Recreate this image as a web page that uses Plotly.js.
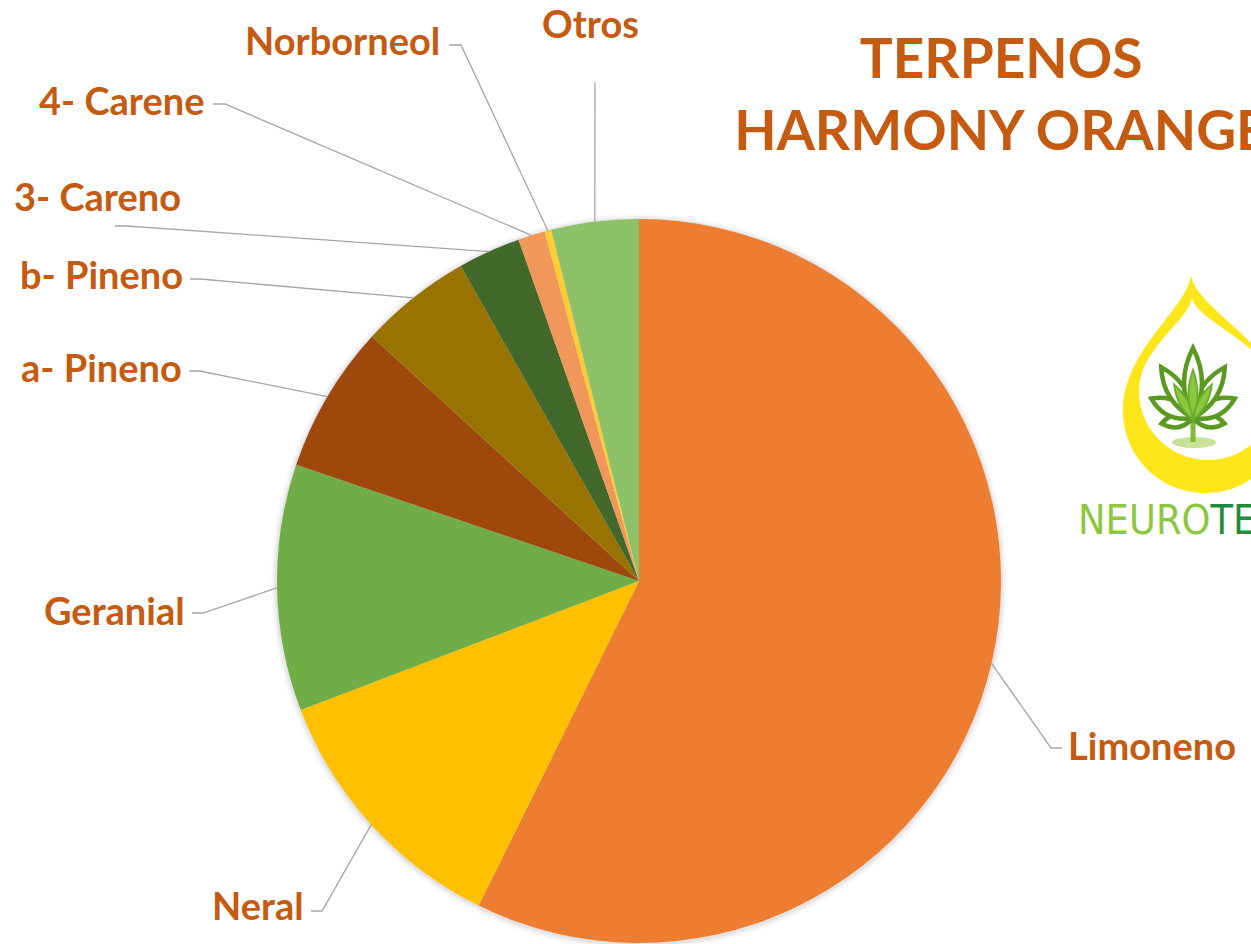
<!DOCTYPE html>
<html>
<head>
<meta charset="utf-8">
<script src="https://cdn.plot.ly/plotly-3.0.1.min.js"></script>
<style>html,body{margin:0;padding:0;background:#fff;}#chart{width:1251px;height:944px;}</style>
</head>
<body>
<div id="chart"></div>
<script>
// ---- data ----
const labels = ['Limoneno','Neral','Geranial','a- Pineno','b- Pineno','3- Careno','4- Carene','Norborneol','Otros'];
const values = [57.3, 11.9, 11.0, 6.6, 5.0, 2.8, 1.2, 0.3, 3.9];
const colors = ['#ED7D31','#FFC000','#70AD47','#9E480E','#997300','#43682B','#F1975A','#FFCD33','#8CC168'];
const titleLines = ['TERPENOS', 'HARMONY ORANGE'];

// ---- label layout (pixels) ----
const labelTextX = [1066, 306, 187, 184, 185, 97, 207, 442, 590];
const labelTextY = [745, 905, 610, 367, 274, 196, 100, 40, 23];
const labelAlign = ['left','right','right','right','right','center','right','right','center'];
const lineEndX = [1062, 311, 192, 189, 190, 115, 213, 449, 595];
const lineEndY = [748, 911, 613, 371, 279, 226, 104, 45, 82];
const elbowX   = [1051, 322, 203, 200, 200, 127, 225, 461, 595];

const W = 1251, H = 944;
const px = x => x / W;
const py = y => 1 - y / H;

// pie geometry
const PCX = 639, PCY = 581, PR = 362;
const domX = [(PCX - PR) / W, (PCX + PR) / W];
const domY = [1 - (PCY + PR) / H, 1 - (PCY - PR) / H];
const cx = W * (domX[0] + domX[1]) / 2;
const cy = H * (1 - (domY[0] + domY[1]) / 2);
const r = Math.min(W * (domX[1] - domX[0]), H * (domY[1] - domY[0])) / 2;

const total = values.reduce((a, b) => a + b, 0);
let cum = 0;
const anchors = values.map(v => {
  const mid = (cum + v / 2) / total * 2 * Math.PI;
  cum += v;
  return [cx + r * Math.sin(mid), cy - r * Math.cos(mid)];
});

const shapes = [];
// soft shadow
[[6, 0.025], [4, 0.035], [2, 0.05]].forEach(([d, o]) => {
  shapes.push({type: 'circle', xref: 'paper', yref: 'paper', layer: 'below',
    x0: px(cx - r - d), x1: px(cx + r + d), y0: py(cy + r + d + 1), y1: py(cy - r - d + 1),
    fillcolor: 'rgba(0,0,0,' + o + ')', line: {width: 0}});
});

// leader lines
const P = (x, y) => px(x).toFixed(5) + ',' + py(y).toFixed(5);
anchors.forEach((a, i) => {
  shapes.push({type: 'path', xref: 'paper', yref: 'paper',
    path: 'M' + P(a[0], a[1]) + ' L' + P(elbowX[i], lineEndY[i]) + ' L' + P(lineEndX[i], lineEndY[i]),
    line: {color: '#A6A6A6', width: 1.3}});
});

// ---- logo (decoration) ----
function dropPath(tx, ty, dcx, dcy, dr) {
  const k = 0.5523 * dr;
  const h = (dcy - ty) * 0.5;
  return 'M' + P(tx, ty) +
    ' C' + P(tx - 4, ty + h * 0.5) + ' ' + P(dcx - dr, dcy - h * 0.9) + ' ' + P(dcx - dr, dcy) +
    ' C' + P(dcx - dr, dcy + k) + ' ' + P(dcx - k, dcy + dr) + ' ' + P(dcx, dcy + dr) +
    ' C' + P(dcx + k, dcy + dr) + ' ' + P(dcx + dr, dcy + k) + ' ' + P(dcx + dr, dcy) +
    ' C' + P(dcx + dr, dcy - h * 0.9) + ' ' + P(tx + 4, ty + h * 0.5) + ' ' + P(tx, ty) + ' Z';
}
shapes.push({type: 'path', xref: 'paper', yref: 'paper', path: dropPath(1191, 275, 1205, 411, 82),
  fillcolor: '#FDE619', line: {width: 0}});
shapes.push({type: 'path', xref: 'paper', yref: 'paper', path: dropPath(1192, 298, 1208, 391, 69),
  fillcolor: '#FFFFFF', line: {width: 0}});

function petal(bx, by, angDeg, len, wid, fill, stroke, sw) {
  const a = angDeg * Math.PI / 180;
  const ux = Math.sin(a), uy = -Math.cos(a);
  const nx = -uy, ny = ux;
  const tx = bx + ux * len, ty = by + uy * len;
  const mx = bx + ux * len * 0.5, my = by + uy * len * 0.5;
  const c1 = [mx + nx * wid, my + ny * wid], c2 = [mx - nx * wid, my - ny * wid];
  return {type: 'path', xref: 'paper', yref: 'paper',
    path: 'M' + P(bx, by) + ' Q' + P(c1[0], c1[1]) + ' ' + P(tx, ty) + ' Q' + P(c2[0], c2[1]) + ' ' + P(bx, by) + ' Z',
    fillcolor: fill, line: {color: stroke, width: sw}};
}
shapes.push({type: 'circle', xref: 'paper', yref: 'paper', x0: px(1172), x1: px(1216), y0: py(448), y1: py(437),
  fillcolor: '#C9E196', line: {width: 0}});
shapes.push({type: 'path', xref: 'paper', yref: 'paper', path: 'M' + P(1193, 415) + ' L' + P(1193, 442),
  line: {color: '#7DB83A', width: 5}});
[[-100, 32, 13], [100, 32, 13], [-65, 46, 16], [65, 46, 16], [-32, 60, 17], [32, 60, 17], [0, 70, 18]].forEach(([ang, len, wid]) => {
  shapes.push(petal(1193, 418, ang, len, wid, 'rgba(255,255,255,0.9)', '#5A9A20', 4.5));
});
shapes.push(petal(1193, 420, 0, 50, 9, '#8DC63F', '#6AAE2A', 2));
shapes.push(petal(1193, 420, -28, 40, 8, '#8DC63F', '#6AAE2A', 2));
shapes.push(petal(1193, 420, 28, 40, 8, '#8DC63F', '#6AAE2A', 2));

// ---- annotations ----
const labelFont = {family: 'Lato, "Open Sans", sans-serif', size: 38, color: '#C55A11', weight: 'bold'};
const annotations = labels.map((t, i) => ({
  text: '<b>' + t + '</b>', xref: 'paper', yref: 'paper', x: px(labelTextX[i]), y: py(labelTextY[i]),
  xanchor: labelAlign[i], yanchor: 'middle', showarrow: false, font: labelFont
}));
annotations.push({
  text: '<span style="color:#8DC63F">NEURO</span><span style="color:#1E8C3A">TERPENOS</span>',
  xref: 'paper', yref: 'paper', x: px(1076), y: py(520), xanchor: 'left', yanchor: 'middle', showarrow: false,
  font: {family: '"Liberation Sans Narrow", "DejaVu Sans Condensed", Roboto, sans-serif', size: 41}
});

const data = [{
  type: 'pie',
  labels: labels,
  values: values,
  sort: false,
  direction: 'clockwise',
  rotation: 0,
  marker: {colors: colors, line: {width: 0}},
  textinfo: 'none',
  hoverinfo: 'label+percent',
  showlegend: false,
  domain: {x: domX, y: domY}
}];

const layout = {
  width: W, height: H,
  margin: {l: 0, r: 0, t: 0, b: 0},
  paper_bgcolor: '#FFFFFF',
  plot_bgcolor: '#FFFFFF',
  showlegend: false,
  title: {
    text: '<b>' + titleLines.join('<br>') + '</b>',
    x: 1001 / W, xref: 'container', xanchor: 'center',
    y: 1 - 78 / H, yref: 'container', yanchor: 'top',
    font: {family: 'Lato, "Open Sans", sans-serif', size: 55, color: '#C55A11'}
  },
  shapes: shapes,
  annotations: annotations
};

Plotly.newPlot('chart', data, layout, {displayModeBar: false, staticPlot: true});
</script>
</body>
</html>
